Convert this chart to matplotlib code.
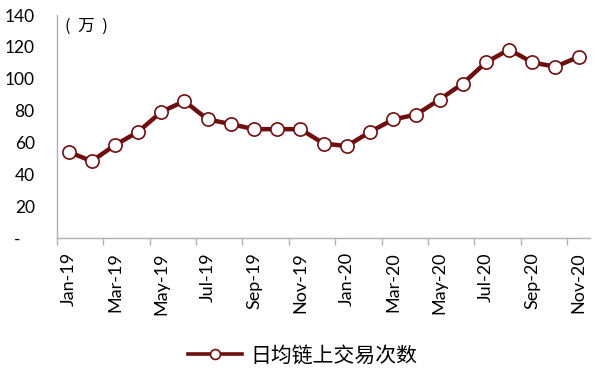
import matplotlib
matplotlib.use("Agg")
import matplotlib.pyplot as plt
from matplotlib.transforms import ScaledTranslation

months = ["Jan-19", "Feb-19", "Mar-19", "Apr-19", "May-19", "Jun-19", "Jul-19", "Aug-19",
          "Sep-19", "Oct-19", "Nov-19", "Dec-19", "Jan-20", "Feb-20", "Mar-20", "Apr-20",
          "May-20", "Jun-20", "Jul-20", "Aug-20", "Sep-20", "Oct-20", "Nov-20"]
values = [54.2, 48.3, 58.4, 66.7, 79.3, 86.0, 74.5, 71.6, 68.4, 68.4, 68.4, 59.4,
          57.8, 66.7, 74.5, 77.6, 87.0, 97.0, 110.3, 118.4, 110.3, 107.6, 113.8]
yticks = [0, 20, 40, 60, 80, 100, 120, 140]
ytick_labels = ["-", "20", "40", "60", "80", "100", "120", "140"]
series_name = "日均链上交易次数"
unit_label = "(  万  )"

plt.rcParams['font.family'] = ['Lato', 'DejaVu Sans']
fig = plt.figure(figsize=(6.06, 3.78), dpi=100)
ax = fig.add_axes([0.094, 0.370, 0.880, 0.590])

color = '#6e0e0e'
x = list(range(len(months)))
ax.plot(x, values, color=color, lw=3.2, marker='o', markersize=9.5,
        markerfacecolor='white', markeredgecolor=color, markeredgewidth=1.2,
        label=series_name, zorder=3)

ax.set_xlim(-0.5, len(months) - 0.5)
ax.set_ylim(0, 140)
ax.set_yticks(yticks)
ax.set_yticklabels(ytick_labels, fontsize=12.5)
ax.tick_params(axis='y', length=0, pad=16)
zero_lbl = ax.get_yticklabels()[0]
zero_lbl.set_transform(zero_lbl.get_transform() + ScaledTranslation(-10/72, 0, fig.dpi_scale_trans))

ax.set_xticks(x[::2])
ax.set_xticklabels(months[::2], rotation=90, fontsize=13)
ax.set_xticks([i - 0.5 for i in range(0, len(months), 2)], minor=True)
ax.tick_params(axis='x', which='major', length=0, pad=10)
ax.tick_params(axis='x', which='minor', length=5, color='#b0b0b0', width=1)

for s in ['top', 'right']:
    ax.spines[s].set_visible(False)
for s in ['left', 'bottom']:
    ax.spines[s].set_color('#b0b0b0')
    ax.spines[s].set_linewidth(1)

ax.text(0.016, 0.99, unit_label, transform=ax.transAxes, fontsize=12,
        va='top', ha='left', family=['Noto Sans CJK SC', 'DejaVu Sans'])

leg = fig.legend(loc='center', bbox_to_anchor=(0.5, 0.06), frameon=False,
                 handlelength=2.6, handletextpad=0.4, numpoints=1, markerscale=0.75,
                 prop={'family': ['Noto Sans CJK SC', 'DejaVu Sans'], 'size': 15,
                       'weight': 'light'})
for ln in leg.get_lines():
    ln.set_linewidth(2.6)

fig.savefig("out.png", dpi=100)
